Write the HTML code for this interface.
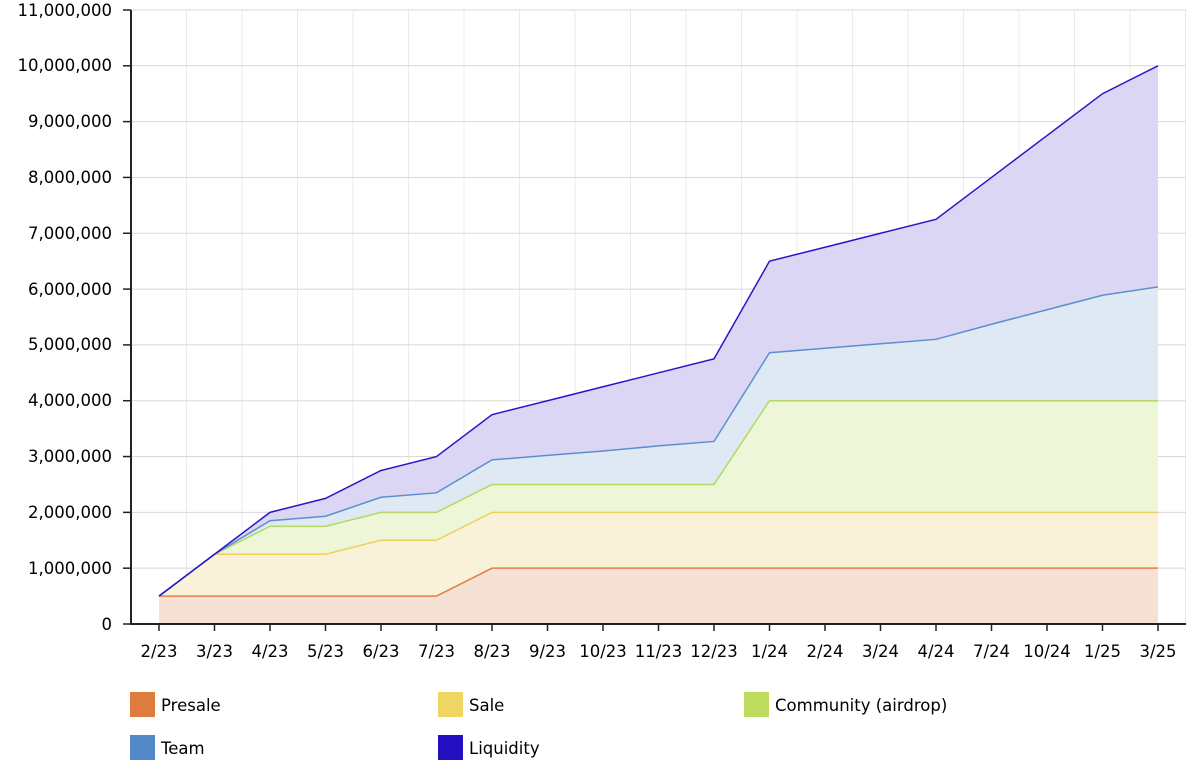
<!DOCTYPE html>
<html><head><meta charset="utf-8"><style>
body{margin:0;background:#fff;width:1200px;height:764px;overflow:hidden}
svg{font-family:"DejaVu Sans","Liberation Sans",sans-serif;font-size:16.5px}
</style></head><body>
<svg id="s" width="1200" height="764" viewBox="0 0 1200 764">
<g id="grid"></g><g id="areas"></g>
<g fill="#000" text-anchor="end">
<text x="112" y="630">0</text><text x="112" y="574">1,000,000</text><text x="112" y="518">2,000,000</text><text x="112" y="462">3,000,000</text><text x="112" y="406">4,000,000</text><text x="112" y="350">5,000,000</text><text x="112" y="295">6,000,000</text><text x="112" y="239">7,000,000</text><text x="112" y="183">8,000,000</text><text x="112" y="127">9,000,000</text><text x="112" y="71">10,000,000</text><text x="112" y="16">11,000,000</text>
</g>
<g fill="#000" text-anchor="middle">
<text x="159" y="657">2/23</text><text x="214.5" y="657">3/23</text><text x="270" y="657">4/23</text><text x="325.5" y="657">5/23</text><text x="381" y="657">6/23</text><text x="436.5" y="657">7/23</text><text x="492" y="657">8/23</text><text x="547.5" y="657">9/23</text><text x="603" y="657">10/23</text><text x="658.5" y="657">11/23</text><text x="714" y="657">12/23</text><text x="769.5" y="657">1/24</text><text x="825" y="657">2/24</text><text x="880.5" y="657">3/24</text><text x="936" y="657">4/24</text><text x="991.5" y="657">7/24</text><text x="1047" y="657">10/24</text><text x="1102.5" y="657">1/25</text><text x="1158" y="657">3/25</text>
</g>
<rect x="130" y="692" width="25" height="25" fill="#e07b3e"/><text x="161" y="711">Presale</text>
<rect x="438" y="692" width="25" height="25" fill="#efd562"/><text x="469" y="711">Sale</text>
<rect x="744" y="692" width="25" height="25" fill="#bedc5e"/><text x="775" y="711">Community (airdrop)</text>
<rect x="130" y="735" width="25" height="25" fill="#5189c9"/><text x="161" y="754">Team</text>
<rect x="438" y="735" width="25" height="25" fill="#2410c0"/><text x="469" y="754">Liquidity</text>
</svg>
<script>
var NS="http://www.w3.org/2000/svg";
function el(p,t,a){var e=document.createElementNS(NS,t);for(var k in a)e.setAttribute(k,a[k]);p.appendChild(e);return e;}
var g=document.getElementById('grid'),ar=document.getElementById('areas');
function X(i){return 159+55.5*i}function Y(v){return 624-v*55.82}
for(var k=1;k<=19;k++)el(g,'line',{x1:131+55.5*k,x2:131+55.5*k,y1:10,y2:624,stroke:'#ebebeb','stroke-width':1});
for(var m=1;m<=11;m++)el(g,'line',{x1:131,x2:1186,y1:Y(m),y2:Y(m),stroke:'#d8d8d8','stroke-width':1});
var P=[.5,.5,.5,.5,.5,.5,1,1,1,1,1,1,1,1,1,1,1,1,1];
var S=[.5,1.25,1.25,1.25,1.5,1.5,2,2,2,2,2,2,2,2,2,2,2,2,2];
var C=[.5,1.25,1.75,1.75,2,2,2.5,2.5,2.5,2.5,2.5,4,4,4,4,4,4,4,4];
var T=[.5,1.25,1.85,1.93,2.27,2.35,2.94,3.02,3.1,3.19,3.27,4.86,4.94,5.02,5.1,5.37,5.63,5.89,6.04];
var L=[.5,1.25,2,2.25,2.75,3,3.75,4,4.25,4.5,4.75,6.5,6.75,7,7.25,8,8.75,9.5,10];
var series=[[L,'#dad6f3','#2a16c8'],[T,'#dfe9f4','#5b8fd0'],[C,'#eef6d8','#b5d865'],[S,'#faf2d8','#ecd05e'],[P,'#f5e1d6','#e3803f']];
series.forEach(function(s){var d=s[0];var pts=d.map(function(v,i){return X(i)+','+Y(v)}).join(' ');
el(ar,'polygon',{points:X(0)+','+624+' '+pts+' '+X(18)+','+624,fill:s[1]});});
series.slice().reverse().forEach(function(s){var pts=s[0].map(function(v,i){return X(i)+','+Y(v)}).join(' ');
el(ar,'polyline',{points:pts,fill:'none',stroke:s[2],'stroke-width':1.5});});
el(ar,'line',{x1:131,x2:131,y1:10,y2:625,stroke:'#222','stroke-width':2});
el(ar,'line',{x1:130,x2:1186,y1:624,y2:624,stroke:'#222','stroke-width':2});
for(var m=0;m<=11;m++)el(ar,'line',{x1:123,x2:131,y1:Y(m),y2:Y(m),stroke:'#222','stroke-width':1.5});
for(var i=0;i<19;i++)el(ar,'line',{x1:X(i),x2:X(i),y1:624,y2:631,stroke:'#222','stroke-width':1.5});
</script>
</body></html>
